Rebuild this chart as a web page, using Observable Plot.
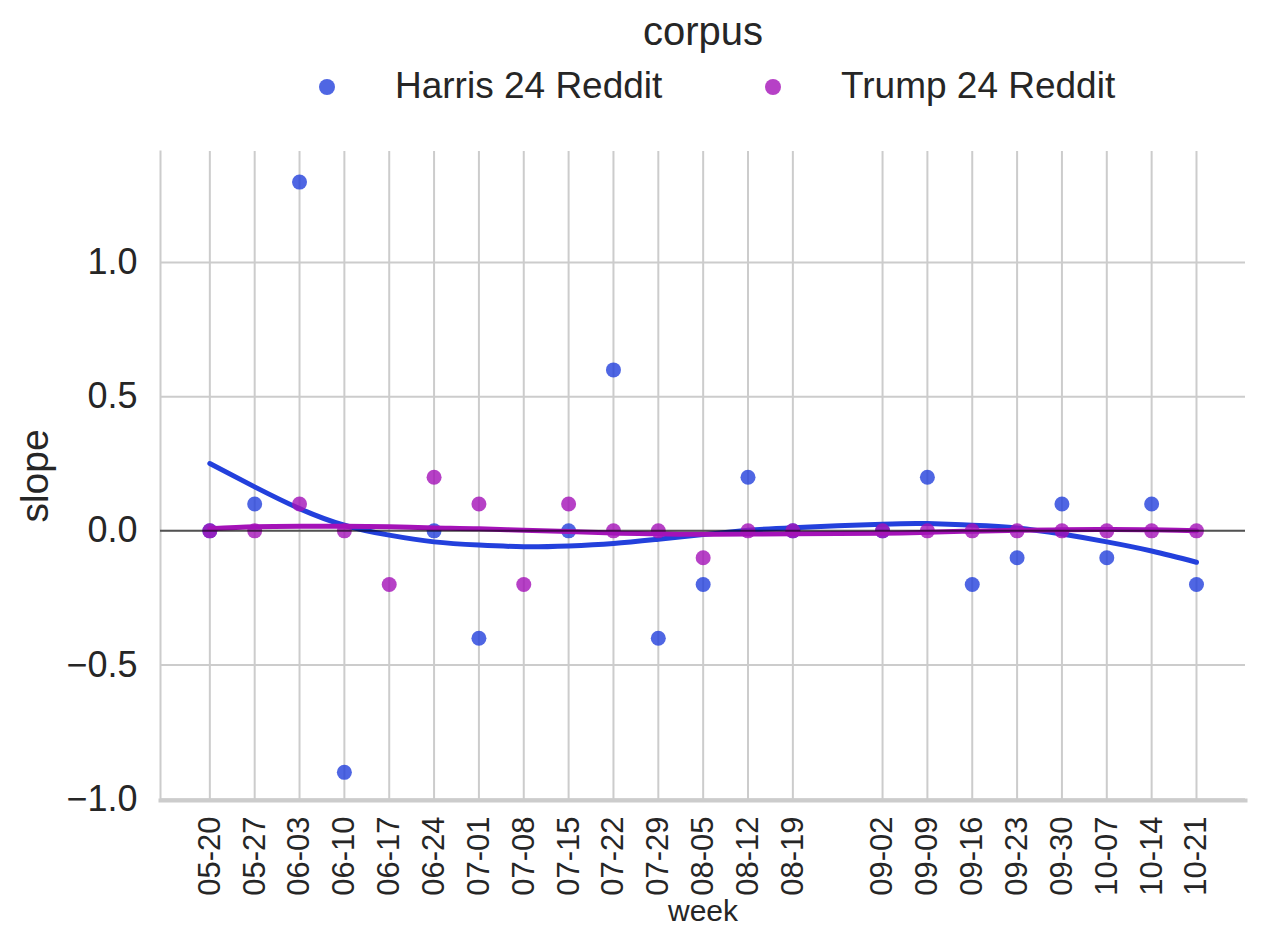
<!DOCTYPE html>
<html><head><meta charset="utf-8">
<script src="https://cdn.jsdelivr.net/npm/d3@7"></script>
<script src="https://cdn.jsdelivr.net/npm/@observablehq/plot@0.6"></script>
<style>
body{margin:0;background:#fff;font-family:"Liberation Sans",Arial,sans-serif;}
#legend{display:block;}
#chart svg{display:block;}
</style></head><body>
<div id="legend"></div><div id="chart"></div>
<script>
const weeks = ["05-20","05-27","06-03","06-10","06-17","06-24","07-01","07-08","07-15","07-22","07-29","08-05","08-12","08-19","09-02","09-09","09-16","09-23","09-30","10-07","10-14","10-21"];
const harris = [0,0.1,1.3,-0.9,null,0,-0.4,null,0,0.6,-0.4,-0.2,0.2,0,0,0.2,-0.2,-0.1,0.1,-0.1,0.1,-0.2];
const trump = [0,0,0.1,0,-0.2,0.2,0.1,-0.2,0.1,0,0,-0.1,0,0,0,0,0,0,0,0,0,0];
// fitted curves at each week
const harrisFit = [0.251,0.164,0.083,0.021,-0.016,-0.041,-0.053,-0.059,-0.056,-0.047,-0.031,-0.014,0.002,0.012,0.025,0.027,0.021,0.011,-0.012,-0.041,-0.075,-0.117];
const trumpFit = [0.008,0.015,0.017,0.017,0.015,0.011,0.008,0.002,-0.002,-0.008,-0.011,-0.013,-0.012,-0.011,-0.009,-0.005,-0.001,0.002,0.004,0.005,0.004,0.0];
const yTicks = [-1.0,-0.5,0.0,0.5,1.0];
const series = ["Harris 24 Reddit","Trump 24 Reddit"];
const colors = ["#2340dc","#a412b8"];

const day = w => { const [m,d] = w.split("-").map(Number); return (Date.UTC(2024,m-1,d) - Date.UTC(2024,4,20)) / 86400000; };
const weekDays = weeks.map(day);
const label = new Map(weeks.map(w => [day(w), w]));

const harrisPts = [], trumpPts = [], harrisLine = [], trumpLine = [];
weeks.forEach((w,i) => {
  if (harris[i] != null) harrisPts.push({x: day(w), y: harris[i]});
  if (trump[i] != null) trumpPts.push({x: day(w), y: trump[i]});
  harrisLine.push({x: day(w), y: harrisFit[i]});
  trumpLine.push({x: day(w), y: trumpFit[i]});
});

const font = '"Liberation Sans", Arial, sans-serif';
const ink = "#262626";

// Legend
const lg = d3.select("#legend").append("svg").attr("width",1271).attr("height",120)
  .style("font-family", font).style("display","block");
lg.append("text").attr("x",703).attr("y",45).attr("text-anchor","middle")
  .attr("font-size",40).attr("fill",ink).text("corpus");
const lx = [327, 773];
series.forEach((s,i) => {
  lg.append("circle").attr("cx",lx[i]).attr("cy",87).attr("r",8)
    .attr("fill",colors[i]).attr("fill-opacity",0.8);
  lg.append("text").attr("x",lx[i]+68).attr("y",98).attr("font-size",37)
    .attr("fill",ink).text(s);
});

const chart = Plot.plot({
  width: 1271,
  height: 823,
  marginTop: 31,
  marginBottom: 143,
  marginLeft: 160,
  marginRight: 26,
  style: {fontFamily: font, color: ink, background: "#fff"},
  x: {domain: [-7.7, 161.65]},
  y: {domain: [-1.005, 1.414]},
  marks: [
    Plot.gridX(weekDays, {stroke: "#cccccc", strokeOpacity: 1, strokeWidth: 2}),
    Plot.gridY(yTicks, {stroke: "#cccccc", strokeOpacity: 1, strokeWidth: 2}),
    Plot.frame({anchor: "left", stroke: "#cccccc", strokeWidth: 2}),
    Plot.frame({anchor: "bottom", stroke: "#cccccc", strokeWidth: 4}),
    Plot.axisX({ticks: weekDays, tickFormat: d => label.get(d), tickRotate: -90, tickSize: 0, tickPadding: 16, fontSize: 31, label: null}),
    Plot.axisX({ticks: [], label: "week", labelAnchor: "center", labelArrow: "none", labelOffset: 120, fontSize: 30}),
    Plot.axisY({ticks: yTicks, tickFormat: d3.format(".1f"), tickSize: 0, tickPadding: 23, fontSize: 36, label: null}),
    Plot.axisY({ticks: [], label: "slope", labelAnchor: "center", labelArrow: "none", labelOffset: 140, fontSize: 39}),
    Plot.dot(harrisPts, {x: "x", y: "y", r: 7.5, fill: colors[0], fillOpacity: 0.8}),
    Plot.line(harrisLine, {x: "x", y: "y", stroke: colors[0], strokeWidth: 5, curve: "natural"}),
    Plot.dot(trumpPts, {x: "x", y: "y", r: 7.5, fill: colors[1], fillOpacity: 0.8}),
    Plot.line(trumpLine, {x: "x", y: "y", stroke: colors[1], strokeWidth: 5, curve: "natural"}),
    Plot.ruleY([0], {stroke: "#000", strokeOpacity: 0.6, strokeWidth: 2})
  ]
});
document.getElementById("chart").appendChild(chart);
</script>
</body></html>
